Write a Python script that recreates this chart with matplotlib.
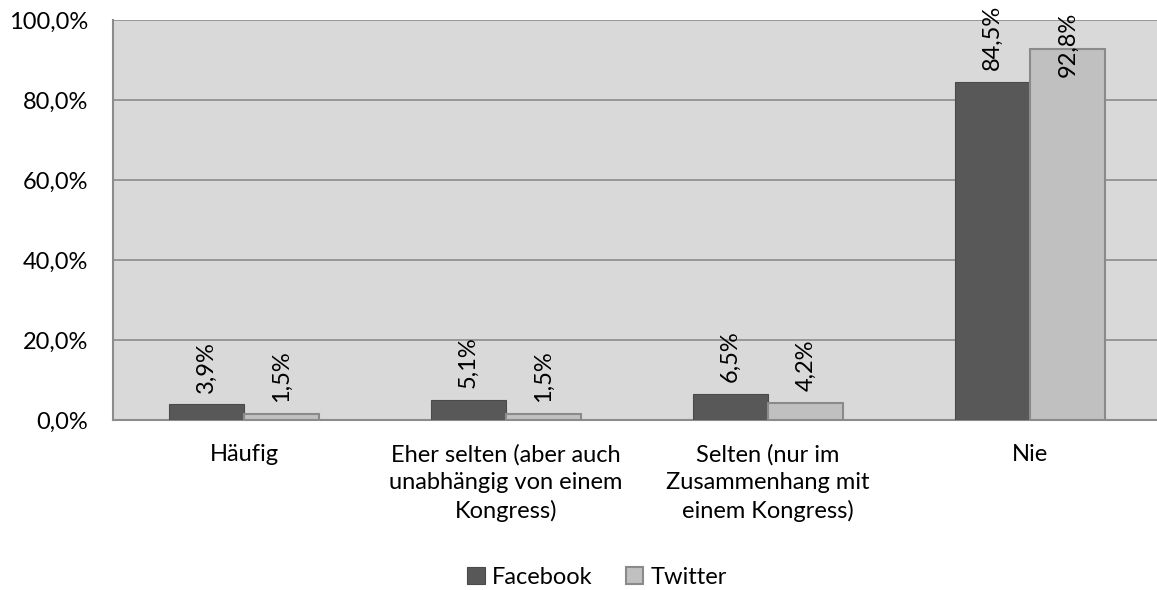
import matplotlib
matplotlib.use("Agg")
import matplotlib.pyplot as plt
import numpy as np

categories = ["Häufig", "Eher selten (aber auch\nunabhängig von einem\nKongress)",
              "Selten (nur im\nZusammenhang mit\neinem Kongress)", "Nie"]
facebook = [3.9, 5.1, 6.5, 84.5]
twitter = [1.5, 1.5, 4.2, 92.8]
yticks = [0, 20, 40, 60, 80, 100]

plt.rcParams['font.family'] = ['Lato', 'DejaVu Sans']
FS = 17
W, H = 1157, 590
fig = plt.figure(figsize=(W / 100, H / 100), dpi=100)
ax = fig.add_axes([113 / W, 170 / H, 1048 / W, 400 / H])
ax.set_facecolor('#d9d9d9')

x = np.arange(len(categories))
bw = 0.287
fb_bars = ax.bar(x - bw / 2, facebook, bw, color='#585858', edgecolor='#4a4a4a', linewidth=0.8,
                 label='Facebook', zorder=3)
tw_bars = ax.bar(x + bw / 2, twitter, bw, color='#c0c0c0', edgecolor='#8a8a8a', linewidth=1.5,
                 label='Twitter', zorder=3)

ax.set_xlim(-0.5, len(categories) - 0.5)
ax.set_ylim(0, 100)
ax.set_yticks(yticks)
ax.set_yticklabels([f"{v:.1f}%".replace('.', ',') for v in yticks], fontsize=FS)
ax.yaxis.grid(True, color='#8c8c8c', linewidth=1.2, zorder=0)
ax.set_axisbelow(True)
ax.tick_params(axis='y', length=0, pad=18)
ax.tick_params(axis='x', length=0, pad=17)
ax.set_xticks(x)
ax.set_xticklabels(categories, fontsize=FS, linespacing=1.38)
for s in ['top', 'right']:
    ax.spines[s].set_visible(False)
for s in ['left', 'bottom']:
    ax.spines[s].set_color('#8c8c8c')
    ax.spines[s].set_linewidth(1.5)

def label(bars, vals):
    for b, v in zip(bars, vals):
        cx = b.get_x() + b.get_width() / 2
        txt = f"{v:.1f}%".replace('.', ',')
        if v > 90:
            ax.text(cx, 102.0, txt, rotation=90, ha='center', va='top', fontsize=FS,
                    clip_on=False, zorder=5)
        else:
            ax.annotate(txt, (cx, v), xytext=(0, 8.5), textcoords='offset points', rotation=90,
                        ha='center', va='bottom', fontsize=FS, annotation_clip=False, zorder=5)

label(fb_bars, facebook)
label(tw_bars, twitter)

leg = fig.legend(handles=[fb_bars, tw_bars], loc='center', bbox_to_anchor=(597 / W, 1 - 577 / H),
                 ncol=2, frameon=False, fontsize=FS, handlelength=0.75, handleheight=0.75,
                 handletextpad=0.3, columnspacing=1.4)

fig.savefig('out.png', dpi=100)
